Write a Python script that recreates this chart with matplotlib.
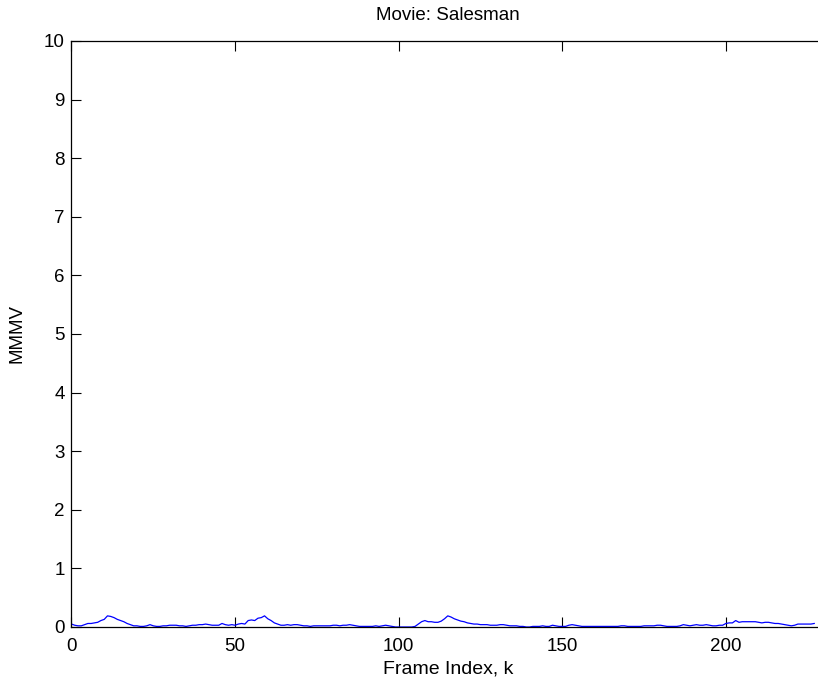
import numpy as np
import matplotlib.pyplot as plt

plt.rcParams['font.family'] = ['Liberation Sans', 'DejaVu Sans']

# MMMV per frame, k = 0..227
mmmv = [
    0.05, 0.03, 0.02, 0.02, 0.04, 0.06, 0.06, 0.07, 0.08, 0.11,
    0.13, 0.19, 0.18, 0.16, 0.13, 0.11, 0.09, 0.06, 0.04, 0.02,
    0.02, 0.01, 0.01, 0.02, 0.04, 0.02, 0.01, 0.01, 0.02, 0.02,
    0.03, 0.03, 0.03, 0.02, 0.02, 0.01, 0.02, 0.03, 0.03, 0.04,
    0.04, 0.05, 0.04, 0.03, 0.03, 0.03, 0.06, 0.04, 0.03, 0.04,
    0.03, 0.05, 0.06, 0.05, 0.11, 0.12, 0.11, 0.15, 0.16, 0.19,
    0.14, 0.11, 0.07, 0.05, 0.03, 0.03, 0.04, 0.03, 0.04, 0.04,
    0.03, 0.02, 0.02, 0.01, 0.02, 0.02, 0.02, 0.02, 0.02, 0.02,
    0.03, 0.03, 0.02, 0.03, 0.03, 0.04, 0.03, 0.02, 0.01, 0.01,
    0.01, 0.01, 0.01, 0.02, 0.01, 0.02, 0.03, 0.02, 0.01, 0.00,
    0.00, 0.00, 0.00, 0.00, 0.00, 0.01, 0.05, 0.09, 0.11, 0.09,
    0.09, 0.08, 0.08, 0.10, 0.14, 0.19, 0.17, 0.14, 0.12, 0.10,
    0.09, 0.07, 0.06, 0.05, 0.05, 0.04, 0.04, 0.04, 0.03, 0.03,
    0.03, 0.04, 0.04, 0.03, 0.02, 0.02, 0.02, 0.01, 0.01, 0.00,
    0.00, 0.01, 0.01, 0.01, 0.02, 0.01, 0.01, 0.03, 0.02, 0.01,
    0.01, 0.01, 0.03, 0.04, 0.03, 0.02, 0.01, 0.01, 0.01, 0.01,
    0.01, 0.01, 0.01, 0.01, 0.01, 0.01, 0.01, 0.01, 0.02, 0.02,
    0.01, 0.01, 0.01, 0.01, 0.01, 0.02, 0.02, 0.02, 0.02, 0.03,
    0.03, 0.02, 0.01, 0.01, 0.01, 0.01, 0.02, 0.04, 0.03, 0.02,
    0.03, 0.04, 0.03, 0.03, 0.04, 0.03, 0.02, 0.02, 0.03, 0.03,
    0.06, 0.07, 0.07, 0.11, 0.08, 0.09, 0.09, 0.09, 0.09, 0.09,
    0.08, 0.07, 0.08, 0.08, 0.07, 0.06, 0.06, 0.05, 0.04, 0.03,
    0.02, 0.03, 0.05, 0.05, 0.05, 0.05, 0.05, 0.06,
]
frames = np.arange(len(mmmv))

xticks = [0, 50, 100, 150, 200]
yticks = list(range(0, 11))

fig = plt.figure(figsize=(8.18, 6.83), dpi=100)
# axes box runs slightly past the right edge of the figure
ax = fig.add_axes([0.0874, 0.082, 0.92, 0.858])
ax.plot(frames, mmmv, color='#0000ff', linewidth=0.9)

ax.set_xlim(0, 230)
ax.set_ylim(0, 10)
ax.set_xticks(xticks)
ax.set_yticks(yticks)
ax.tick_params(direction='in', length=7, width=0.8, top=True, right=False,
               labelsize=13.5)
ax.tick_params(axis='x', pad=8)
ax.tick_params(axis='y', pad=5)
for s in ax.spines.values():
    s.set_linewidth(0.9)

ax.set_xlabel('Frame Index, k', fontsize=14, labelpad=4)
ax.set_ylabel('MMMV', fontsize=13.5, labelpad=13)
ax.set_title('Movie: Salesman', fontsize=13.5, pad=15)

fig.savefig('out.png', dpi=100)
